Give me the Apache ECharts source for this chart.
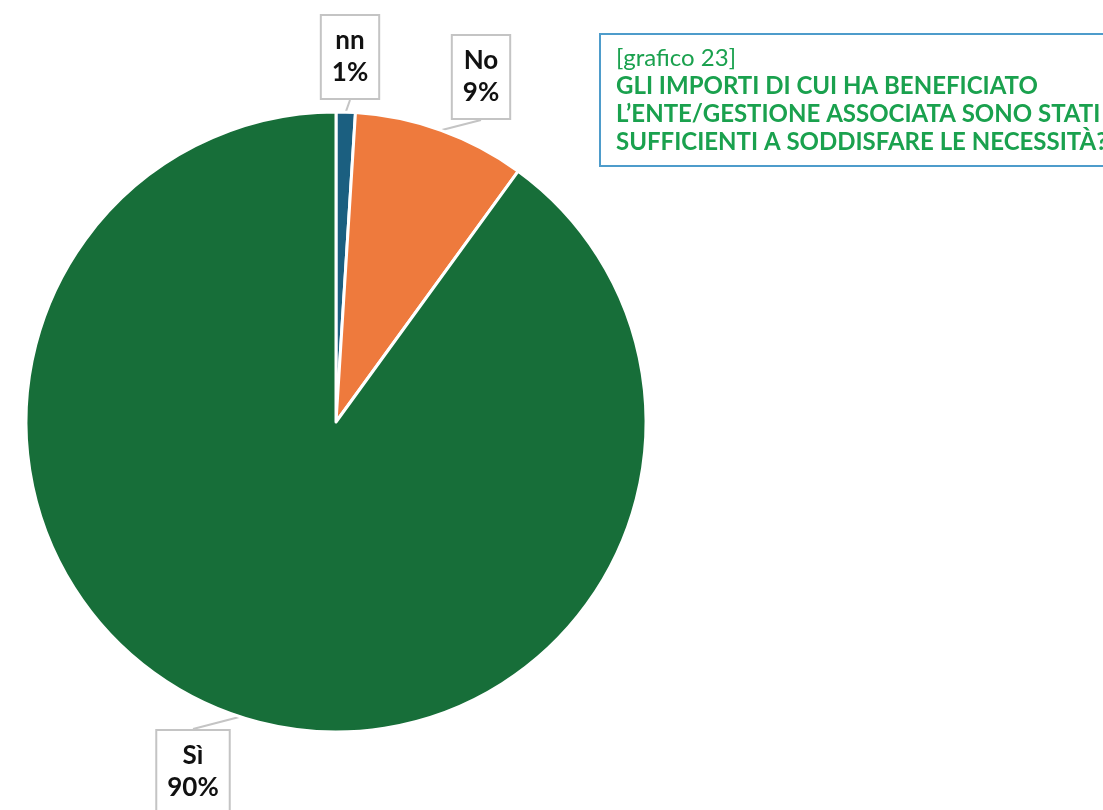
<!DOCTYPE html>
<html>
<head>
<meta charset="utf-8">
<script src="https://cdn.jsdelivr.net/npm/echarts@6/dist/echarts.min.js"></script>
<style>
  html, body { margin: 0; padding: 0; background: #ffffff; }
  #chart { width: 1103px; height: 810px; }
</style>
</head>
<body>
<div id="chart"></div>
<script>
// Answers to the survey question, in percent
const categories = ['nn', 'No', 'Sì'];
const percentages = [1, 9, 90];
const sliceColors = ['#1b5f80', '#ee7a3d', '#176e39'];

// Where each callout box sits on the page (layout only)
const calloutCenters = [[350, 57], [481, 77], [193, 772]];

const chart = echarts.init(document.getElementById('chart'), null, { renderer: 'canvas' });

chart.setOption({
  backgroundColor: '#ffffff',
  animation: false,
  title: {
    left: 600,
    top: 32,
    padding: [12, 60, 12, 16],
    borderColor: '#4e9ccb',
    borderWidth: 2,
    backgroundColor: '#ffffff',
    text: '{r|[grafico 23]}\n{b|GLI IMPORTI DI CUI HA BENEFICIATO}\n{b|L’ENTE/GESTIONE ASSOCIATA SONO STATI}\n{b|SUFFICIENTI A SODDISFARE LE NECESSITÀ?}',
    textStyle: {
      rich: {
        r: { fontFamily: 'Lato', fontSize: 24, fontWeight: 'normal', color: '#1aa14e', lineHeight: 28 },
        b: { fontFamily: 'Lato', fontSize: 24, fontWeight: 'bold', color: '#1aa14e', lineHeight: 28 }
      }
    }
  },
  series: [{
    type: 'pie',
    center: [336, 422],
    radius: 310,
    startAngle: 90,
    clockwise: true,
    data: categories.map((name, i) => ({
      name: name,
      value: percentages[i],
      itemStyle: { color: sliceColors[i] }
    })),
    itemStyle: { borderColor: '#ffffff', borderWidth: 3 },
    label: {
      show: true,
      position: 'outside',
      formatter: '{b}\n{c}%',
      fontFamily: 'Lato',
      fontWeight: 'bold',
      fontSize: 26,
      lineHeight: 32,
      color: '#111111',
      backgroundColor: '#ffffff',
      borderColor: '#c4c4c4',
      borderWidth: 2,
      padding: [13, 10, 5, 10],
      align: 'center'
    },
    labelLine: {
      show: true,
      length: 8,
      length2: 0,
      lineStyle: { color: '#c4c4c4', width: 2 }
    },
    labelLayout: (p) => ({
      x: calloutCenters[p.dataIndex][0],
      y: calloutCenters[p.dataIndex][1],
      align: 'center',
      verticalAlign: 'middle'
    }),
    emphasis: { disabled: true }
  }]
});
</script>
</body>
</html>
